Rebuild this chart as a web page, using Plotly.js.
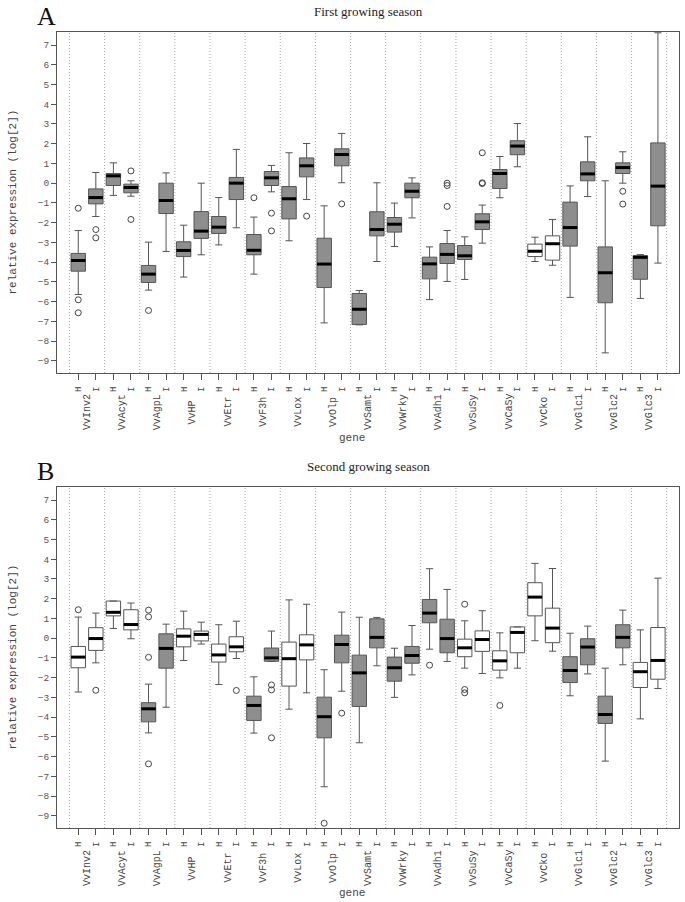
<!DOCTYPE html>
<html>
<head>
<meta charset="utf-8">
<script src="https://cdn.plot.ly/plotly-3.0.1.min.js"></script>
<style>
  html, body { margin: 0; padding: 0; background: #fff; }
  #chart { width: 685px; height: 902px; }
</style>
</head>
<body>
<div id="chart"></div>
<script>
// --- DATA ---
const GENES = ['VvInv2', 'VvAcyt', 'VvAgpL', 'VvHP', 'VvEtr', 'VvF3h', 'VvLox', 'VvOlp', 'VvSamt',
               'VvWrky', 'VvAdh1', 'VvSuSy', 'VvCaSy', 'VvCko', 'VvGlc1', 'VvGlc2', 'VvGlc3'];
const GROUPS = ['H', 'I'];

// Panel A - first growing season (one value per slot: gene H, gene I, ...)
const A_LO  = [-5.64, -1.69, -0.62, -0.66, -5.42, -3.46, -4.76, -3.63, -3.13, -2.26, -4.61, -0.44,
               -2.92, -0.83, -7.08, 0.02, -7.18, -3.97, -3.21, -1.76, -5.90, -4.98, -4.88, -3.04,
               -0.74, 0.83, -3.97, -4.16, -5.79, -0.68, -8.60, 0.00, -5.84, -4.05];
const A_Q1  = [-4.46, -1.05, -0.12, -0.49, -5.03, -1.54, -3.72, -2.80, -2.55, -0.83, -3.63, -0.12,
               -1.81, 0.32, -5.29, 0.88, -7.16, -2.67, -2.48, -0.74, -4.85, -4.07, -3.87, -2.35,
               -0.27, 1.44, -3.72, -3.90, -3.19, 0.12, -6.06, 0.49, -4.87, -2.16];
const A_MED = [-3.92, -0.73, 0.37, -0.22, -4.61, -0.88, -3.41, -2.43, -2.23, 0.00, -3.40, 0.27,
               -0.79, 0.88, -4.10, 1.45, -6.39, -2.35, -2.08, -0.41, -4.09, -3.61, -3.68, -1.96,
               0.49, 1.88, -3.45, -3.07, -2.25, 0.47, -4.54, 0.79, -3.76, -0.15];
const A_Q3  = [-3.56, -0.29, 0.49, -0.05, -4.17, 0.00, -2.97, -1.44, -1.69, 0.29, -2.60, 0.59,
               -0.17, 1.28, -2.79, 1.74, -5.59, -1.45, -1.74, 0.00, -3.75, -3.06, -3.16, -1.55,
               0.69, 2.15, -3.09, -2.67, -0.96, 1.08, -3.23, 1.03, -3.67, 2.04];
const A_HI  = [-2.40, 0.54, 1.03, 0.12, -2.99, 0.52, -2.13, 0.00, -0.73, 1.71, -1.72, 0.90,
               1.54, 2.01, -1.15, 2.52, -5.44, 0.02, -1.01, 0.27, -3.23, -2.40, -2.72, -1.11,
               1.35, 3.02, -2.74, -1.84, -0.14, 2.35, 0.12, 1.59, -3.62, 7.62];
const A_WHITE = ['VvCko'];
const A_OUT_SLOT = [0, 0, 0, 1, 1, 3, 3, 4, 10, 11, 11, 13, 15, 21, 21, 21, 23, 23, 23, 31, 31];
const A_OUT_VAL  = [-1.27, -5.91, -6.57, -2.35, -2.77, 0.62, -1.84, -6.45, -0.74, -1.52, -2.42, -1.67,
                    -1.05, 0.00, -0.12, -1.18, 1.54, 0.02, -0.02, -0.41, -1.06];

// Panel B - second growing season
const B_LO  = [-2.73, -1.25, 0.49, -0.03, -4.80, -3.50, -1.13, -0.30, -2.35, -1.03, -4.81, -1.18,
               -3.60, -2.77, -7.53, -2.69, -5.30, -1.40, -3.00, -1.86, -0.56, -1.18, -1.52, -1.79,
               -2.01, -1.52, -0.13, -0.66, -2.92, -1.81, -6.23, -1.35, -4.09, -2.55];
const B_Q1  = [-1.50, -0.62, 1.13, 0.42, -4.24, -1.52, -0.44, -0.14, -1.21, -0.69, -4.17, -1.17,
               -2.43, -1.10, -5.05, -1.25, -3.46, -0.49, -2.18, -1.27, 0.78, -0.74, -0.94, -0.67,
               -1.62, -0.74, 1.13, -0.23, -2.25, -1.35, -4.32, -0.49, -2.50, -2.08];
const B_MED = [-0.96, -0.02, 1.31, 0.69, -3.58, -0.52, 0.10, 0.19, -0.85, -0.44, -3.41, -1.00,
               -1.04, -0.34, -3.98, -0.32, -1.76, 0.04, -1.50, -0.88, 1.27, -0.02, -0.49, -0.07,
               -1.15, 0.29, 2.08, 0.51, -1.64, -0.45, -3.87, 0.04, -1.70, -1.13];
const B_Q3  = [-0.42, 0.53, 1.88, 1.44, -3.27, 0.22, 0.47, 0.36, -0.30, 0.07, -2.94, -0.50,
               -0.20, 0.17, -2.99, 0.15, -0.86, 0.98, -0.96, -0.42, 1.96, 0.96, -0.05, 0.37,
               -0.64, 0.57, 2.81, 1.52, -0.94, -0.03, -2.94, 0.68, -1.23, 0.54];
const B_HI  = [1.07, 1.27, 1.88, 1.78, -2.33, 0.71, 1.37, 0.81, 0.68, 0.86, -1.96, 0.36,
               1.94, 1.72, -1.60, 1.32, 1.06, 1.05, -0.51, 0.64, 3.52, 2.47, 0.88, 1.39,
               0.27, 0.57, 3.79, 3.53, 0.25, 0.61, -1.52, 1.42, 0.42, 3.04];
const B_WHITE = ['VvInv2', 'VvAcyt', 'VvHP', 'VvEtr', 'VvLox', 'VvSuSy', 'VvCaSy', 'VvCko', 'VvGlc3'];
const B_OUT_SLOT = [0, 1, 4, 4, 4, 4, 9, 11, 11, 11, 14, 15, 20, 22, 22, 22, 24];
const B_OUT_VAL  = [1.44, -2.64, 1.42, 1.08, -0.97, -6.37, -2.65, -2.37, -2.62, -5.05, -9.38, -3.80,
                    -1.37, 1.72, -2.60, -2.77, -3.41];

const Y_TICKS = [-9, -8, -7, -6, -5, -4, -3, -2, -1, 0, 1, 2, 3, 4, 5, 6, 7];

// --- STYLE ---
const W = 685, H = 902;
const BOX_W = 0.82;
const GRAY = '#8e8e8e';
const EDGE = '#555555';
const MONO = 'Liberation Mono, Courier New, monospace';
const SERIF = 'Liberation Serif, Times New Roman, serif';

// slot position on the x axis: gene k -> H at 2k, I at 2k+1
const SLOTS = [];
const SLOT_TEXT = [];
GENES.forEach((g, k) => GROUPS.forEach((grp, j) => { SLOTS.push(2 * k + j); SLOT_TEXT.push(grp); }));

function panelTraces(lo, q1, med, q3, hi, whiteGenes, outSlot, outVal, xa, ya) {
    const traces = [];
    [false, true].forEach(isWhite => {
        const idx = SLOTS.filter(s => whiteGenes.includes(GENES[Math.floor(s / 2)]) === isWhite);
        if (!idx.length) return;
        traces.push({
            type: 'box', xaxis: xa, yaxis: ya,
            x: idx, q1: idx.map(i => q1[i]), median: idx.map(i => med[i]), q3: idx.map(i => q3[i]),
            lowerfence: idx.map(i => lo[i]), upperfence: idx.map(i => hi[i]),
            width: BOX_W, whiskerwidth: 0.5, boxpoints: false,
            fillcolor: isWhite ? '#ffffff' : GRAY,
            line: { color: EDGE, width: 1 },
            hoverinfo: 'skip'
        });
    });

    // thick black median bars
    const mx = [], my = [];
    SLOTS.forEach(i => { mx.push(i - BOX_W / 2, i + BOX_W / 2, null); my.push(med[i], med[i], null); });
    traces.push({
        type: 'scatter', mode: 'lines', xaxis: xa, yaxis: ya, x: mx, y: my,
        line: { color: '#000', width: 3 }, hoverinfo: 'skip'
    });

    // outliers
    traces.push({
        type: 'scatter', mode: 'markers', xaxis: xa, yaxis: ya, x: outSlot, y: outVal,
        marker: { symbol: 'circle-open', size: 6, color: '#444', line: { width: 1 } },
        hoverinfo: 'skip'
    });
    return traces;
}

const data = [
    ...panelTraces(A_LO, A_Q1, A_MED, A_Q3, A_HI, A_WHITE, A_OUT_SLOT, A_OUT_VAL, 'x', 'y'),
    ...panelTraces(B_LO, B_Q1, B_MED, B_Q3, B_HI, B_WHITE, B_OUT_SLOT, B_OUT_VAL, 'x2', 'y2')
];

// --- LAYOUT ---
const plotL = 57, plotR = 679;
const panels = [
    { top: 32, bottom: 373, title: 'First growing season', letter: 'A', geneY: 412, xlabY: 438 },
    { top: 487, bottom: 828, title: 'Second growing season', letter: 'B', geneY: 868, xlabY: 893 }
];

function xAxis(anchor) {
    return {
        domain: [plotL / W, plotR / W], range: [-1.21, 34.2], anchor: anchor,
        tickvals: SLOTS, ticktext: SLOT_TEXT, tickangle: -90,
        ticks: 'outside', ticklen: 6, tickcolor: EDGE, ticklabelstandoff: 3,
        tickfont: { family: MONO, size: 9, color: '#444' },
        showline: true, mirror: true, linecolor: EDGE, linewidth: 1,
        showgrid: false, zeroline: false
    };
}
function yAxis(anchor, p) {
    return {
        domain: [1 - p.bottom / H, 1 - p.top / H], range: [-9.62, 7.66], anchor: anchor,
        tickvals: Y_TICKS, ticks: 'outside', ticklen: 5, tickcolor: EDGE,
        tickfont: { family: MONO, size: 9.5, color: '#555' },
        showline: true, mirror: true, linecolor: EDGE, linewidth: 1,
        showgrid: false, zeroline: false
    };
}

const shapes = [];
const annotations = [];
panels.forEach((p, n) => {
    const xr = n === 0 ? 'x' : 'x2';
    const yr = n === 0 ? 'y' : 'y2';
    // dotted separators between genes
    for (let k = 0; k <= GENES.length; k++) {
        shapes.push({
            type: 'line', xref: xr, yref: yr + ' domain', x0: 2 * k - 0.5, x1: 2 * k - 0.5, y0: 0, y1: 1,
            line: { color: '#a8a8a8', width: 1, dash: '1px,2px' }, layer: 'below'
        });
    }
    GENES.forEach((g, k) => annotations.push({
        text: g, xref: xr, yref: 'paper', x: 2 * k + 0.5, y: 1 - p.geneY / H,
        xanchor: 'center', yanchor: 'middle', textangle: -90, showarrow: false,
        font: { family: MONO, size: 10, color: '#444' }
    }));
    annotations.push(
        { text: p.title, xref: 'paper', yref: 'paper', x: (plotL + plotR) / 2 / W, y: 1 - (p.top - 21) / H,
          xanchor: 'center', yanchor: 'middle', showarrow: false, font: { family: SERIF, size: 13, color: '#222' } },
        { text: p.letter, xref: 'paper', yref: 'paper', x: 35 / W, y: 1 - (p.top + 1) / H,
          xanchor: 'left', yanchor: 'bottom', showarrow: false, font: { family: SERIF, size: 26, color: '#111' } },
        { text: 'relative expression (log[2])', xref: 'paper', yref: 'paper', x: 12 / W,
          y: 1 - (p.top + p.bottom) / 2 / H, xanchor: 'center', yanchor: 'middle', textangle: -90,
          showarrow: false, font: { family: MONO, size: 11, color: '#444' } },
        { text: 'gene', xref: 'paper', yref: 'paper', x: 352 / W, y: 1 - p.xlabY / H,
          xanchor: 'center', yanchor: 'middle', showarrow: false, font: { family: MONO, size: 11, color: '#444' } }
    );
});

const layout = {
    width: W, height: H, margin: { l: 0, r: 0, t: 0, b: 0 },
    paper_bgcolor: '#fff', plot_bgcolor: '#fff', showlegend: false,
    xaxis: xAxis('y'), yaxis: yAxis('x', panels[0]),
    xaxis2: xAxis('y2'), yaxis2: yAxis('x2', panels[1]),
    shapes: shapes, annotations: annotations
};

Plotly.newPlot('chart', data, layout, { staticPlot: true });
</script>
</body>
</html>
